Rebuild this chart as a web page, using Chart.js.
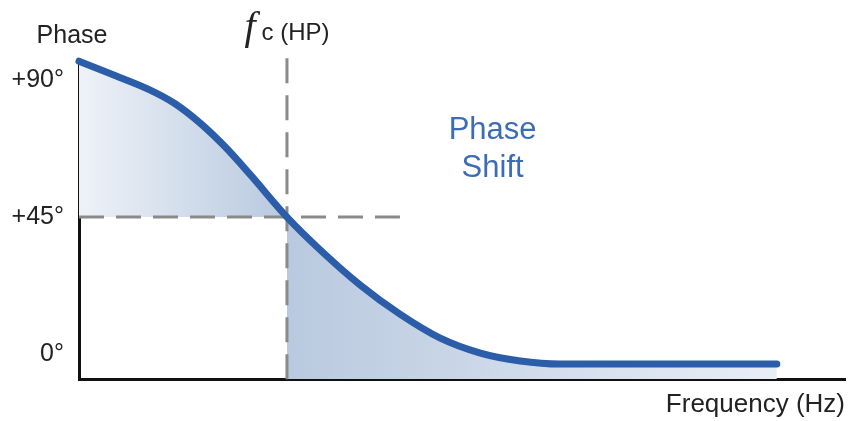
<!DOCTYPE html>
<html>
<head>
<meta charset="utf-8">
<script src="https://cdn.jsdelivr.net/npm/chart.js@4/dist/chart.umd.min.js"></script>
<style>
  html, body { margin: 0; padding: 0; background: #fff; }
  #wrap { width: 851px; height: 421px; }
</style>
</head>
<body>
<div id="wrap"><canvas id="phaseChart"></canvas></div>
<script>
// curve (x in arbitrary frequency units 0..100, y in degrees)
const freq = [0, 4.7, 9.3, 12.5, 15.8, 19.1, 22.3, 27.15, 31.5, 36.7, 41.9, 47.1, 52.4, 57.6, 62.8, 77.2, 91.1];
const phase = [96.2, 91.5, 86.7, 82.3, 75.9, 68.0, 59.1, 45, 34.2, 22.7, 13.1, 5.3, 0.3, -2.3, -3.3, -3.3, -3.3];
const cutoffFreq = 27.15;
const cutoffPhase = 45;
const guideEndFreq = 41.9;
const guideTop = 97.2;
const guideBottom = -10.2;
const tickValues = [90, 45, 0];
const tickLabels = ["+90°", "+45°", "0°"];
const xRange = [0, 100];
const yRange = [-8.2, 96.6];

const curve = freq.map((f, i) => ({ x: f, y: phase[i] }));
const leftPart = curve.filter((p) => p.x <= cutoffFreq);
const rightPart = curve.filter((p) => p.x >= cutoffFreq);

const ink = "#222222";
const blue = "#2b5da8";
const sans = "'Liberation Sans', Arial, sans-serif";

function gradient(ctx, fromVal, toVal, c0, c1) {
  const chart = ctx.chart;
  if (!chart.chartArea) return c0;
  const x = chart.scales.x;
  const g = chart.ctx.createLinearGradient(
    x.getPixelForValue(fromVal), 0, x.getPixelForValue(toVal), 0
  );
  g.addColorStop(0, c0);
  g.addColorStop(1, c1);
  return g;
}

const textPlugin = {
  id: "annotText",
  afterDraw(chart) {
    const c = chart.ctx;
    const area = chart.chartArea;
    const x = chart.scales.x;
    const y = chart.scales.y;
    c.save();
    c.textBaseline = "middle";

    // axis name above the y axis
    c.fillStyle = ink;
    c.textAlign = "center";
    c.font = "25px " + sans;
    c.fillText("Phase", area.left - 7, area.top - 24);

    // fc (HP) label over the cutoff line
    const fFont = "italic 40px 'Liberation Serif', 'Times New Roman', serif";
    const rFont = "24px " + sans;
    c.font = fFont;
    const fw = c.measureText("f").width;
    c.font = rFont;
    const rw = c.measureText("c (HP)").width;
    const start = x.getPixelForValue(cutoffFreq) - (fw + 6 + rw) / 2;
    c.textAlign = "left";
    c.font = fFont;
    c.fillText("f", start, 28);
    c.font = rFont;
    c.fillText("c (HP)", start + fw + 6, 33);

    // Phase Shift note
    c.fillStyle = "#3c6db4";
    c.textAlign = "center";
    c.font = "31px " + sans;
    c.fillText("Phase", x.getPixelForValue(54), y.getPixelForValue(73.3));
    c.fillText("Shift", x.getPixelForValue(54), y.getPixelForValue(61.1));
    c.restore();
  },
};

document.addEventListener("DOMContentLoaded", () => {
  const phaseChart = document.getElementById("phaseChart").getContext("2d");
  new Chart(phaseChart, {
    type: "line",
    data: {
      datasets: [
        {
          data: curve,
          borderColor: blue,
          borderWidth: 7,
          borderCapStyle: "round",
          pointRadius: 0,
          cubicInterpolationMode: "monotone",
          fill: false,
          clip: false,
        },
        {
          data: [
            { x: cutoffFreq, y: guideTop },
            { x: cutoffFreq, y: guideBottom },
          ],
          borderColor: "#8a8a8a",
          borderWidth: 3,
          borderDash: [25, 12],
          pointRadius: 0,
          fill: false,
          clip: false,
        },
        {
          data: [
            { x: xRange[0], y: cutoffPhase },
            { x: guideEndFreq, y: cutoffPhase },
          ],
          borderColor: "#8a8a8a",
          borderWidth: 3,
          borderDash: [25, 12],
          pointRadius: 0,
          fill: false,
        },
        {
          data: leftPart,
          borderWidth: 0,
          pointRadius: 0,
          cubicInterpolationMode: "monotone",
          fill: { value: cutoffPhase },
          backgroundColor: (ctx) =>
            gradient(ctx, xRange[0], cutoffFreq, "#eef2f8", "#b8c9df"),
        },
        {
          data: rightPart,
          borderWidth: 0,
          pointRadius: 0,
          cubicInterpolationMode: "monotone",
          fill: "start",
          backgroundColor: (ctx) =>
            gradient(ctx, cutoffFreq, freq[freq.length - 1], "#b9c9df", "#e9eef6"),
        },
      ],
    },
    options: {
      responsive: true,
      maintainAspectRatio: false,
      animation: false,
      events: [],
      layout: { padding: { top: 60, right: 6, left: 0, bottom: 0 } },
      plugins: {
        legend: { display: false },
        tooltip: { enabled: false },
      },
      scales: {
        x: {
          type: "linear",
          min: xRange[0],
          max: xRange[1],
          z: 1,
          grid: { display: false, drawTicks: false },
          border: { display: true, color: "#111", width: 3 },
          ticks: { display: false },
          title: {
            display: true,
            text: "Frequency (Hz)",
            align: "end",
            color: ink,
            font: { family: sans, size: 26 },
            padding: { top: 0, bottom: 1 },
          },
          afterFit: (scale) => { scale.height = 42; },
        },
        y: {
          min: yRange[0],
          max: yRange[1],
          z: 1,
          grid: { display: false, drawTicks: false },
          border: { display: true, color: "#111", width: 3 },
          afterBuildTicks: (scale) => {
            scale.ticks = tickValues.map((v) => ({ value: v }));
          },
          ticks: {
            padding: 15,
            color: ink,
            font: { family: sans, size: 25 },
            callback: (v) => tickLabels[tickValues.indexOf(v)],
          },
          afterFit: (scale) => { scale.width = 79; },
        },
      },
    },
    plugins: [textPlugin],
  });
});
</script>
</body>
</html>
